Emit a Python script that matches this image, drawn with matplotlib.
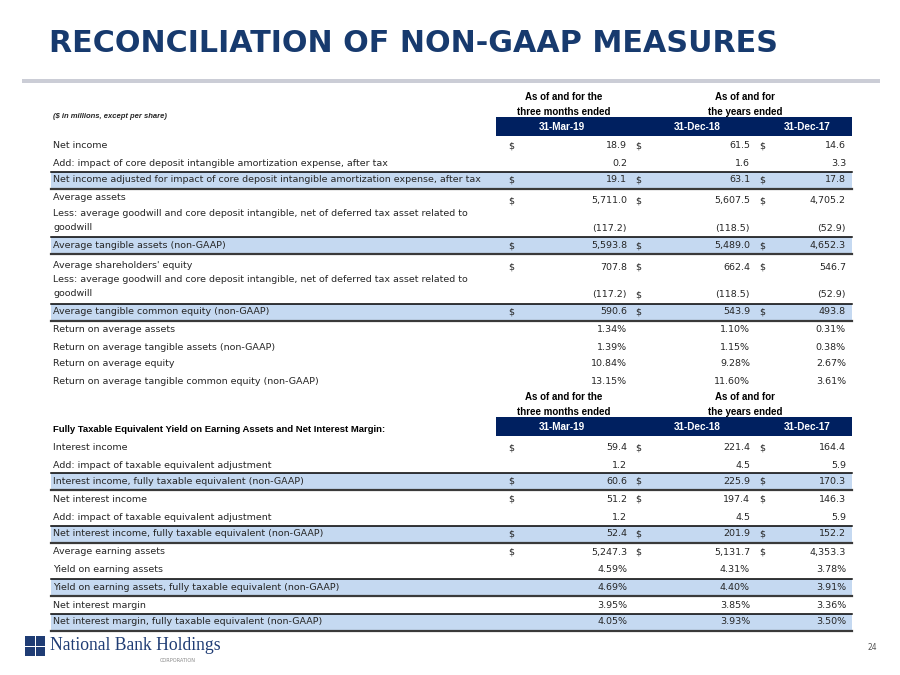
import matplotlib.pyplot as plt
from matplotlib.patches import Rectangle

# ---- data (values in $ millions / percent) ----
col_dates = ["31-Mar-19", "31-Dec-18", "31-Dec-17"]
group_top = ["As of and for the", "As of and for"]
group_bot = ["three months ended", "the years ended"]

less_gw = "Less: average goodwill and core deposit intangible, net of deferred tax asset related to\ngoodwill"
labels_1 = [
    "Net income",
    "Add: impact of core deposit intangible amortization expense, after tax",
    "Net income adjusted for impact of core deposit intangible amortization expense, after tax",
    "Average assets",
    less_gw,
    "Average tangible assets (non-GAAP)",
    "Average shareholders' equity",
    less_gw,
    "Average tangible common equity (non-GAAP)",
    "Return on average assets",
    "Return on average tangible assets (non-GAAP)",
    "Return on average equity",
    "Return on average tangible common equity (non-GAAP)",
]
mar19_1 = [18.9, 0.2, 19.1, 5711.0, -117.2, 5593.8, 707.8, -117.2, 590.6, 1.34, 1.39, 10.84, 13.15]
dec18_1 = [61.5, 1.6, 63.1, 5607.5, -118.5, 5489.0, 662.4, -118.5, 543.9, 1.10, 1.15, 9.28, 11.60]
dec17_1 = [14.6, 3.3, 17.8, 4705.2, -52.9, 4652.3, 546.7, -52.9, 493.8, 0.31, 0.38, 2.67, 3.61]
dollar_1 = ["111", "000", "111", "111", "000", "111", "111", "010", "111", "000", "000", "000", "000"]
pct_1 = [0, 0, 0, 0, 0, 0, 0, 0, 0, 1, 1, 1, 1]
hl_1 = [2, 5, 8]

section_2 = "Fully Taxable Equivalent Yield on Earning Assets and Net Interest Margin:"
labels_2 = [
    "Interest income",
    "Add: impact of taxable equivalent adjustment",
    "Interest income, fully taxable equivalent (non-GAAP)",
    "Net interest income",
    "Add: impact of taxable equivalent adjustment",
    "Net interest income, fully taxable equivalent (non-GAAP)",
    "Average earning assets",
    "Yield on earning assets",
    "Yield on earning assets, fully taxable equivalent (non-GAAP)",
    "Net interest margin",
    "Net interest margin, fully taxable equivalent (non-GAAP)",
]
mar19_2 = [59.4, 1.2, 60.6, 51.2, 1.2, 52.4, 5247.3, 4.59, 4.69, 3.95, 4.05]
dec18_2 = [221.4, 4.5, 225.9, 197.4, 4.5, 201.9, 5131.7, 4.31, 4.40, 3.85, 3.93]
dec17_2 = [164.4, 5.9, 170.3, 146.3, 5.9, 152.2, 4353.3, 3.78, 3.91, 3.36, 3.50]
dollar_2 = ["111", "000", "111", "111", "000", "111", "111", "000", "000", "000", "000"]
pct_2 = [0, 0, 0, 0, 0, 0, 0, 1, 1, 1, 1]
hl_2 = [2, 5, 8, 10]

# ---- layout (pixels, 900x675 canvas) ----
rows_y_1 = [146, 164, 180, 201, 228, 245.5, 267, 295, 312, 330, 347, 364, 382]
label_y_1 = [146, 164, 180, 198, 213, 245.5, 265, 279, 312, 330, 347, 364, 382]
rows_y_2 = [448, 465, 481, 499, 517, 534, 552, 570, 587, 605, 622]
dollar_x = [508, 635, 759]
value_x = [627, 750, 846]
date_x = [562, 697, 807]
group_x = [564, 745]
left_x, right_x = 51, 852

NAVY = "#002060"
TITLE = "#173a6e"
BAND = "#c5d9f1"
TXT = "#262626"
FS = 6.8
BOLD = ["Liberation Sans", "DejaVu Sans"]

fig = plt.figure(figsize=(9, 6.75), dpi=100)
ax = fig.add_axes([0, 0, 1, 1])
ax.set_xlim(0, 900)
ax.set_ylim(675, 0)
ax.axis("off")

ax.text(49, 44, "RECONCILIATION OF NON-GAAP MEASURES", fontsize=21.7, fontweight="bold",
        color=TITLE, va="center", ha="left")
ax.add_patch(Rectangle((22, 78.5), 858, 4, color="#cbcdd6", lw=0))
ax.text(53, 117, "($ in millions, except per share)", fontsize=5.5, fontstyle="italic",
        fontweight="bold", color=TXT, va="center", family=BOLD)


def fmt(v, pct):
    if pct:
        return f"{v:.2f}%"
    s = f"{abs(v):,.1f}"
    return f"({s})" if v < 0 else s


def header(y0):
    for i in range(2):
        ax.text(group_x[i], y0, group_top[i], fontsize=7.0, fontweight="bold", ha="center",
                va="center", color="black", family=BOLD)
        ax.text(group_x[i], y0 + 15, group_bot[i], fontsize=7.0, fontweight="bold", ha="center",
                va="center", color="black", family=BOLD)
    ax.add_patch(Rectangle((496, y0 + 20), right_x - 496, 19, color=NAVY, lw=0))
    for i, d in enumerate(col_dates):
        ax.text(date_x[i], y0 + 30, d, fontsize=7.2, fontweight="bold", color="white",
                ha="center", va="center", family=BOLD)


def block(labels, cols, dollars, pcts, hl, ys, lys):
    for i, lab in enumerate(labels):
        y = ys[i]
        if i in hl:
            ax.add_patch(Rectangle((left_x, y - 8.5), right_x - left_x, 17, color=BAND, lw=0))
            ax.plot([left_x, right_x], [y - 8.5, y - 8.5], color="black", lw=1.1)
            ax.plot([left_x, right_x], [y + 8.5, y + 8.5], color="#3a3a3a", lw=1.6)
        for k, line in enumerate(lab.split("\n")):
            ax.text(left_x + 2, lys[i] + k * 15, line, fontsize=FS, color=TXT, va="center", ha="left")
        for c in range(3):
            ax.text(value_x[c], y, fmt(cols[c][i], pcts[i]), fontsize=FS, color=TXT, va="center", ha="right")
            if dollars[i][c] == "1":
                ax.text(dollar_x[c], y, "$", fontsize=FS, color=TXT, va="center", ha="left")


header(97)
block(labels_1, [mar19_1, dec18_1, dec17_1], dollar_1, pct_1, hl_1, rows_y_1, label_y_1)

header(397)
ax.text(left_x + 2, 430, section_2, fontsize=6.8, fontweight="bold", color="black", va="center", family=BOLD)
block(labels_2, [mar19_2, dec18_2, dec17_2], dollar_2, pct_2, hl_2, rows_y_2, rows_y_2)

# logo
for dx in (0, 10.5):
    for dy in (0, 10.5):
        ax.add_patch(Rectangle((25 + dx, 636 + dy), 9.5, 9.5, color="#1f3c74", lw=0))
ax.text(50, 646, "National Bank Holdings", fontsize=12.7, color="#1f3c74", va="center",
        family=["Liberation Serif", "DejaVu Serif"])
ax.text(178, 660, "CORPORATION", fontsize=3.6, color="#8a8a8a", va="center", ha="center")
ax.text(872, 647, "24", fontsize=5.5, color="#555555", va="center", ha="center")

plt.savefig("out.png", dpi=100)
